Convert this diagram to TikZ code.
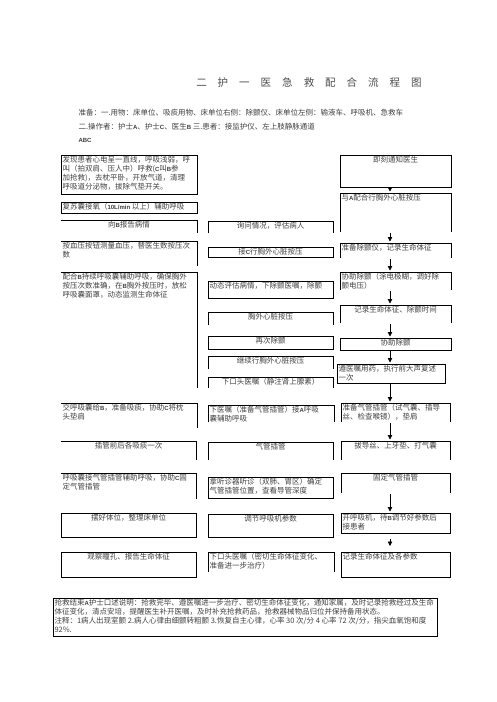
\documentclass[tikz,border=0pt]{standalone}
\usepackage{fontspec}
\newfontfamily\cjk{Noto Sans CJK SC}
\newfontfamily\lat{Liberation Sans}
\usetikzlibrary{arrows.meta}
\tikzset{dcell/.style={anchor=north west, inner sep=1.5pt, outer sep=0pt, text=black!75, font=\cjk\fontsize{7.5}{9}\selectfont}}
\tikzset{dbox/.style={dcell, draw, line width=0.9pt}}
\tikzset{dline/.style={draw, line width=0.9pt}}
\tikzset{arr/.style={draw, -{Triangle[length=4.5pt,width=4.5pt]}, line width=0.8pt, shorten <=1pt, shorten >=1.5pt}}
\newcommand{\tb}[3]{\parbox[t][\dimexpr#2pt-3pt\relax][t]{\dimexpr#1pt-3pt\relax}{#3}}
\newcommand{\lt}[1]{{\lat\bfseries\fontsize{6}{9}\selectfont #1}}
\newcommand{\tsp}{\hspace{11pt}}

\begin{document}
\begin{tikzpicture}[x=1pt, y=-1pt]
\useasboundingbox (0,0) rectangle (496,702);
% title and preparation
\node[text=black!70, font=\cjk\fontsize{10.5}{12}\selectfont] (title) at (309,83)
  {二\tsp 护\tsp 一\tsp 医\tsp 急\tsp 救\tsp 配\tsp 合\tsp 流\tsp 程\tsp 图};
\node[dcell, anchor=west] (prep1) at (77,113) {准备：一.用物：床单位、吸痰用物、床单位右侧：除颤仪、床单位左侧：输液车、呼吸机、急救车};
\node[dcell, anchor=west] (prep2) at (77,127) {二.操作者：护士\lt{A}、护士\lt{C}、医生\lt{B} 三.患者：接监护仪、左上肢静脉通道};
\node[dcell, anchor=west] (prep3) at (77,140) {\lt{ABC}};

% left column
\node[dbox] (L1) at (61,155) {\tb{136}{39}{发现患者心电呈一直线，呼吸浅弱，呼\\叫（拍双肩、压人中）呼救(\lt{C}叫\lt{B}参\\加抢救)，去枕平卧，开放气道，清理\\呼吸道分泌物，拔除气垫开关。}};
\node[dbox] (L2) at (61,202) {\tb{136}{11}{复苏囊接氧（\lt{10L/min} 以上）辅助呼吸}};
\node[dcell] (L3) at (61,220) {\tb{136}{13}{\centering 向\lt{B}报告病情}};
\node[dcell] (L4) at (61,241) {\tb{136}{25}{按血压按钮测量血压，替医生数按压次\\数}};
\node[dcell] (L5) at (61,272) {\tb{136}{116}{配合\lt{B}持续呼吸囊辅助呼吸，确保胸外\\按压次数准确，在\lt{B}胸外按压时，放松\\呼吸囊面罩，动态监测生命体征}};
\node[dcell] (L6) at (61,403) {\tb{136}{25}{交呼吸囊给\lt{B}，准备吸痰，协助\lt{C}将枕\\头垫肩}};
\node[dcell] (L7) at (61,441) {\tb{135}{19}{\centering 插管前后各吸痰一次}};
\node[dcell] (L8) at (61,473) {\tb{135}{26}{呼吸囊接气管插管辅助呼吸，协助\lt{C}固\\定气管插管}};
\node[dbox] (L9) at (61,513) {\tb{135}{24}{\centering 摆好体位，整理床单位}};
\node[dbox] (L10) at (61,552) {\tb{135}{25}{\centering 观察瞳孔、报告生命体征}};

% middle column
\node[dcell] (M1) at (208,221) {\tb{125}{12}{\centering 询问情况，评估病人}};
\node[dbox] (M2) at (208,247) {\tb{125}{10}{\centering 接\lt{C}行胸外心脏按压}};
\node[dbox] (M3) at (208,281) {\tb{125}{17}{动态评估病情，下除颤医嘱，除颤}};
\node[dcell] (M4) at (208,312) {\tb{125}{13}{\centering 胸外心脏按压}};
\node[dbox] (M5) at (208,336) {\tb{125}{13}{\centering 再次除颤}};
\node[dcell] (M6) at (208,356) {\tb{125}{13}{\centering 继续行胸外心脏按压}};
\node[dcell] (M7) at (208,377) {\tb{125}{11}{\centering 下口头医嘱（静注肾上腺素）}};
\node[dcell] (M8) at (208,405) {\tb{126}{17}{下医嘱（准备气管插管）接\lt{A}呼吸\\囊辅助呼吸}};
\node[dcell] (M9) at (208,442) {\tb{125}{18}{\centering 气管插管}};
\node[dbox] (M10) at (208,477) {\tb{125}{21}{拿听诊器听诊（双肺、胃区）确定\\气管插管位置，查看导管深度}};
\node[dbox] (M11) at (208,514) {\tb{125}{23}{\centering 调节呼吸机参数}};
\node[dcell] (M12) at (208,552) {\tb{126}{20}{下口头医嘱（密切生命体征变化、\\准备进一步治疗）}};

% right column
\node[dbox] (R1) at (340,155) {\tb{111}{32}{\centering 即刻通知医生}};
\node[dcell] (R2) at (340,193) {\tb{111}{39}{与\lt{A}配合行胸外心脏按压}};
\node[dcell] (R3) at (340,243) {\tb{111}{15}{准备除颤仪，记录生命体征}};
\node[dcell] (R4) at (340,272) {\tb{111}{18}{协助除颤（涂电极糊，调好除\\颤电压）}};
\node[dcell] (R5) at (340,305) {\tb{111}{18}{\centering 记录生命体征、除颤时间}};
\node[dbox] (R6) at (340,338) {\tb{111}{12}{\centering 协助除颤}};
\node[dbox] (R7) at (337,364) {\tb{108}{19}{遵医嘱用药，执行前大声复述\\一次}};
\node[dcell] (R8) at (341,403) {\tb{109}{19}{准备气管插管（试气囊、插导\\丝、检查喉镜），垫肩}};
\node[dcell] (R9) at (341,441) {\tb{109}{19}{\centering 拔导丝、上牙垫、打气囊}};
\node[dcell] (R10) at (341,473) {\tb{109}{20}{\centering 固定气管插管}};
\node[dbox] (R11) at (341,513) {\tb{109}{20}{开呼吸机，待\lt{B}调节好参数后\\接患者}};
\node[dbox] (R12) at (341,552) {\tb{109}{25}{记录生命体征及各参数}};

% closing note
\node[dbox] (note) at (53,598) {\tb{384}{38}{抢救结束\lt{A}护士口述说明：抢救完毕、遵医嘱进一步治疗、密切生命体征变化，通知家属，及时记录抢救经过及生命\\体征变化，清点安培，提醒医生补开医嘱，及时补充抢救药品，抢救器械物品归位并保持备用状态。\\注释：1病人出现室颤 2.病人心律由细颤转粗颤 3.恢复自主心律，心率 30 次/分 4 心率 72 次/分，指尖血氧饱和度\\92\%.}};

% open boxes
\foreach \n in {L3,L4,L5,L6,L7,L8}
  \draw[dline] (\n.north west) -- (\n.north east) -- (\n.south east);
\foreach \n in {M1,M4,M6,M7,M8,M9,M12,R2,R3,R4,R5,R8,R9,R10}
  \draw[dline] (\n.south west) -- (\n.north west) -- (\n.north east) -- (\n.south east);

% arrows
\coordinate (ax) at (390,0);
\foreach \a/\b in {R1/R2,R2/R3,R3/R4,R4/R5,R5/R6,R6/R7,R7/R8,R8/R9,R10/R11}
  \draw[arr] (\a.south -| ax) -- (\b.north -| ax);
\draw[arr, shorten <=6pt, shorten >=6pt] (R11.south -| ax) -- (R12.north -| ax);
\end{tikzpicture}
\end{document}
